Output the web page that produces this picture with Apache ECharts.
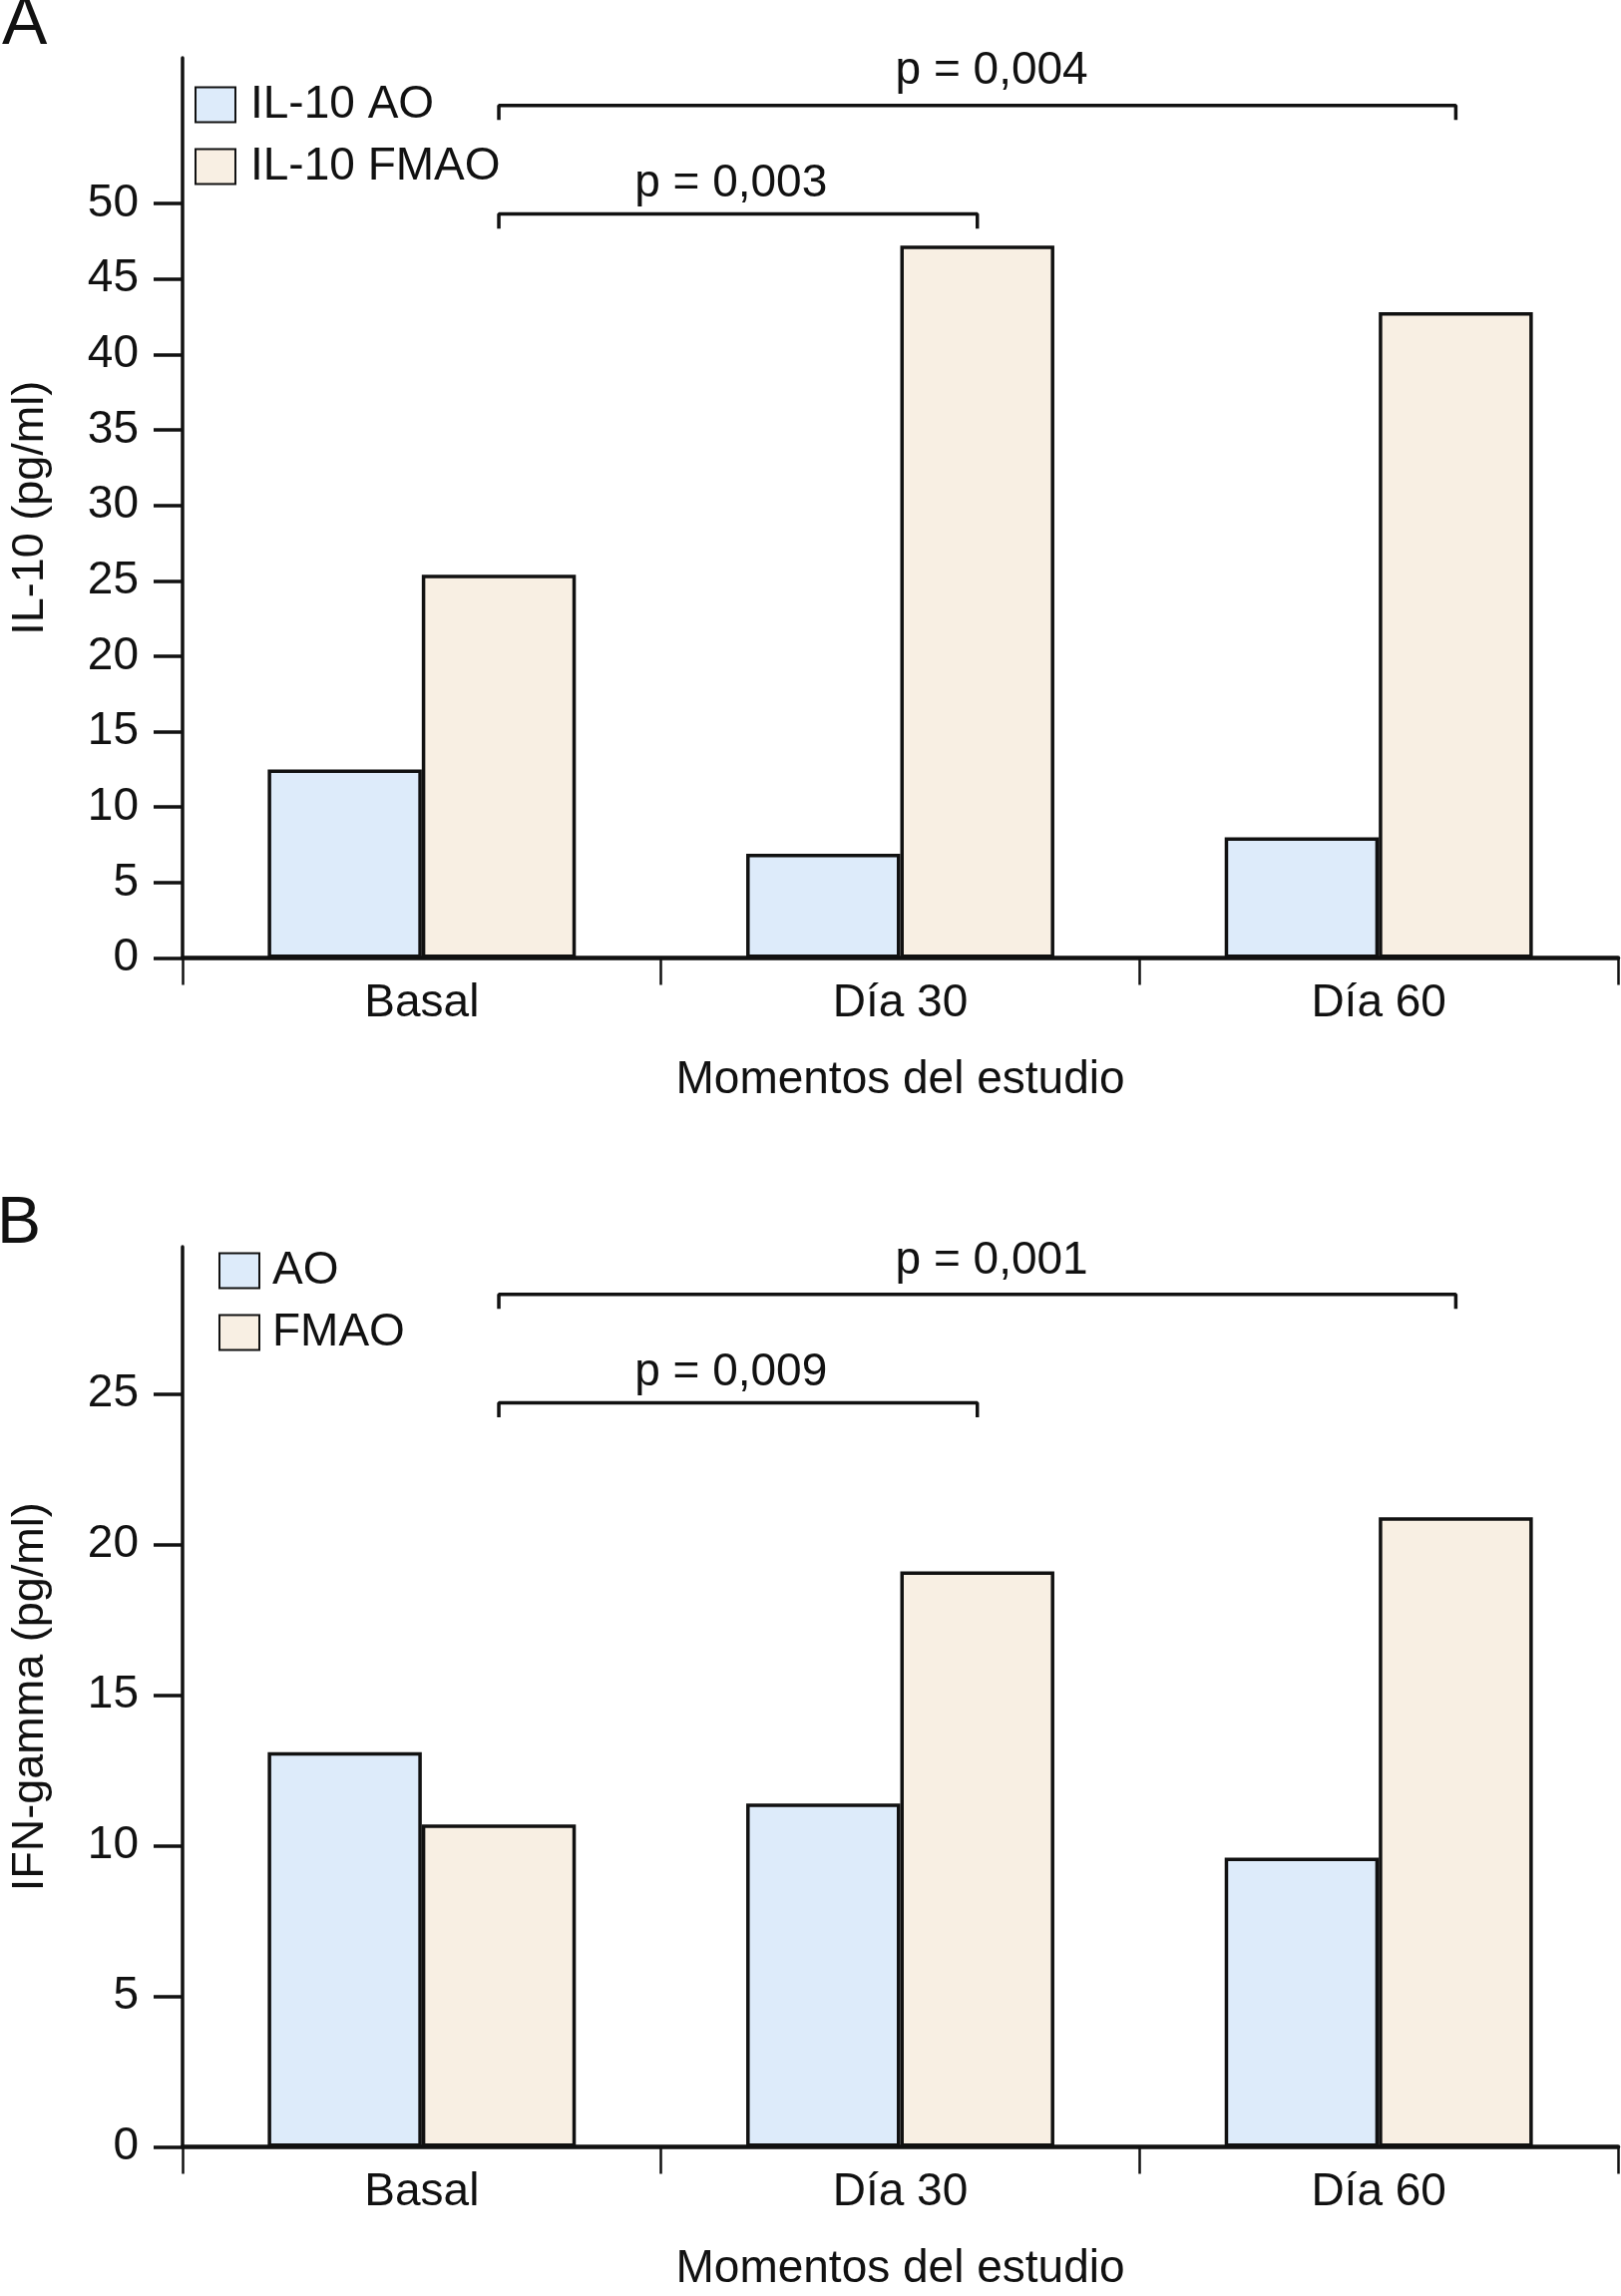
<!DOCTYPE html>
<html>
<head>
<meta charset="utf-8">
<script src="https://cdn.jsdelivr.net/npm/echarts@6/dist/echarts.min.js"></script>
<style>
html,body{margin:0;padding:0;background:#fff;}
#chart{width:1625px;height:2302px;}
</style>
</head>
<body>
<div id="chart"></div>
<script>
// ---- data ----
const categories = ['Basal', 'Día 30', 'Día 60'];
const il10AO   = [12.5, 6.9, 8.0];
const il10FMAO = [25.4, 47.2, 42.8];
const ifnAO    = [13.1, 11.4, 9.6];
const ifnFMAO  = [10.7, 19.1, 20.9];
const ticksA = [0, 5, 10, 15, 20, 25, 30, 35, 40, 45, 50];
const ticksB = [0, 5, 10, 15, 20, 25];
const seriesNamesA = ['IL-10 AO', 'IL-10 FMAO'];
const seriesNamesB = ['AO', 'FMAO'];
// significance brackets between FMAO bars (category indexes, level in data units)
const pLabelsA = ['p = 0,004', 'p = 0,003'];
const pLabelsB = ['p = 0,001', 'p = 0,009'];
const bracketToA = [2, 1];
const bracketToB = [2, 1];
const bracketLevelA = [56.5, 49.3];
const bracketLevelB = [28.3, 24.7];
const labelLevelA = [58.8, 51.3];
const labelLevelB = [29.4, 25.7];

const FONT = "'Liberation Sans', Arial, Helvetica, sans-serif";
const INK = '#111111';
const AO_COLOR = '#ddebfa';
const FMAO_COLOR = '#f8efe3';
const BAR_FRAC = 0.322;

const chart = echarts.init(document.getElementById('chart'), null, {renderer: 'canvas'});

function yAxisCfg(grid, max, ticks, name) {
  return {
    type: 'value', gridIndex: grid, min: 0, max: max,
    name: name, nameLocation: 'middle', nameGap: 130, nameRotate: 90,
    nameTextStyle: {fontFamily: FONT, fontSize: 45, color: INK},
    axisLine: {show: true, lineStyle: {color: INK, width: 3.5}},
    axisTick: {show: true, length: 29, lineStyle: {color: INK, width: 3.5}, customValues: ticks},
    axisLabel: {show: true, margin: 44, fontFamily: FONT, fontSize: 46, color: INK, customValues: ticks},
    splitLine: {show: false}
  };
}
function xAxisCfg(grid) {
  return {
    type: 'category', gridIndex: grid, data: categories, boundaryGap: true,
    name: 'Momentos del estudio', nameLocation: 'middle', nameGap: 100,
    nameTextStyle: {fontFamily: FONT, fontSize: 46, color: INK},
    axisLine: {show: true, lineStyle: {color: INK, width: 4.5}},
    axisTick: {show: true, length: 27, interval: 0, lineStyle: {color: INK, width: 2.5}},
    axisLabel: {show: true, margin: 23, interval: 0, fontFamily: FONT, fontSize: 46, color: INK},
    splitLine: {show: false}
  };
}
function hiddenX(grid) {
  return {type: 'value', gridIndex: grid, min: 0, max: categories.length, show: false};
}
function barSeries(name, data, color, xi, yi) {
  return {
    type: 'bar', name: name, data: data, xAxisIndex: xi, yAxisIndex: yi,
    barWidth: (BAR_FRAC * 100) + '%', barGap: '0%',
    itemStyle: {color: color, borderColor: INK, borderWidth: 3.5},
    z: 2
  };
}
function brackets(labels, toIdx, levels, labelLevels, xi, yi, drop) {
  const out = [];
  const fm = 0.5 + BAR_FRAC / 2; // centre of FMAO bar within a category
  labels.forEach((lab, k) => {
    const x1 = 0 + fm, x2 = toIdx[k] + fm, y = levels[k];
    out.push({
      type: 'line', xAxisIndex: xi, yAxisIndex: yi, symbol: 'none', silent: true,
      data: [[x1, y - drop], [x1, y], [x2, y], [x2, y - drop]],
      lineStyle: {color: INK, width: 3.5}, z: 3
    });
    out.push({
      type: 'scatter', xAxisIndex: xi, yAxisIndex: yi, symbolSize: 0, silent: true,
      itemStyle: {opacity: 1},
      data: [{name: lab, value: [(x1 + x2) / 2 + (k === 0 ? 0.03 : -0.015), labelLevels[k]]}],
      label: {show: true, position: [0, 0], align: 'center', verticalAlign: 'middle',
              formatter: p => p.name, textBorderWidth: 0, opacity: 1,
              fontFamily: FONT, fontSize: 46, color: INK},
      z: 4
    });
  });
  return out;
}

const option = {
  animation: false,
  backgroundColor: '#fff',
  title: [
    {text: 'A', left: 2, top: -9, padding: 0, textStyle: {fontFamily: FONT, fontSize: 68, fontWeight: 'normal', color: INK}},
    {text: 'B', left: -3, top: 1195, padding: 0, textStyle: {fontFamily: FONT, fontSize: 66, fontWeight: 'normal', color: INK}}
  ],
  legend: [
    {data: seriesNamesA, orient: 'vertical', left: 195, top: 82, itemWidth: 40, itemHeight: 35, itemGap: 16,
     icon: 'rect', padding: 0,
     textStyle: {fontFamily: FONT, fontSize: 46, color: INK, padding: [0, 0, 0, 10]}},
    {data: seriesNamesB, orient: 'vertical', left: 219, top: 1251, itemWidth: 40, itemHeight: 35, itemGap: 16,
     icon: 'rect', padding: 0,
     textStyle: {fontFamily: FONT, fontSize: 46, color: INK, padding: [0, 0, 0, 8]}}
  ],
  grid: [
    {left: 181, top: 58, width: 1441, height: 902.5, containLabel: false},
    {left: 181, top: 1250, width: 1441, height: 902.5, containLabel: false}
  ],
  xAxis: [xAxisCfg(0), hiddenX(0), xAxisCfg(1), hiddenX(1)],
  yAxis: [yAxisCfg(0, 59.65, ticksA, 'IL-10 (pg/ml)'), yAxisCfg(1, 29.88, ticksB, 'IFN-gamma (pg/ml)')],
  series: [
    barSeries(seriesNamesA[0], il10AO, AO_COLOR, 0, 0),
    barSeries(seriesNamesA[1], il10FMAO, FMAO_COLOR, 0, 0),
    barSeries(seriesNamesB[0], ifnAO, AO_COLOR, 2, 1),
    barSeries(seriesNamesB[1], ifnFMAO, FMAO_COLOR, 2, 1),
    ...brackets(pLabelsA, bracketToA, bracketLevelA, labelLevelA, 1, 0, 0.97),
    ...brackets(pLabelsB, bracketToB, bracketLevelB, labelLevelB, 3, 1, 0.48)
  ]
};
chart.setOption(option);
</script>
</body>
</html>
